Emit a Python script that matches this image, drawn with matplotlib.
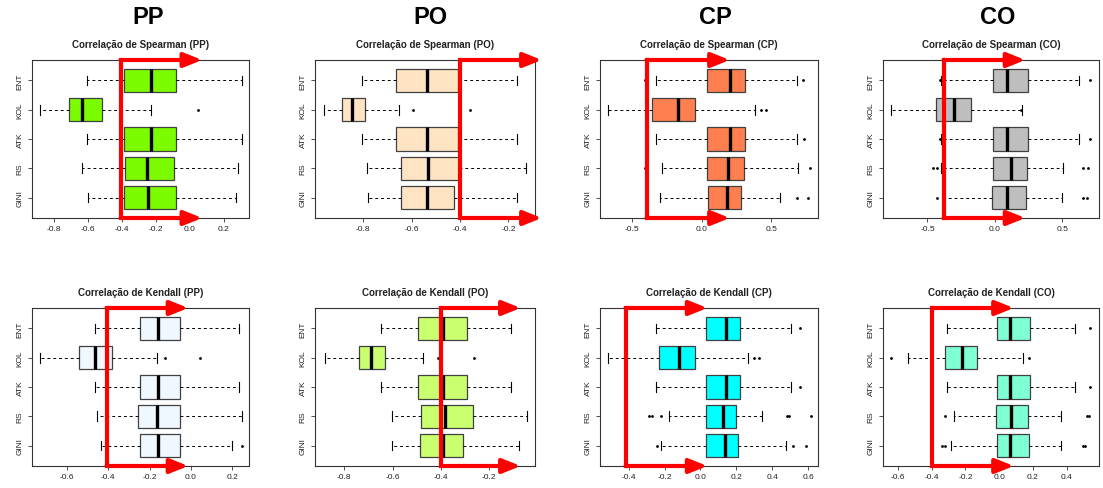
import matplotlib
matplotlib.use("Agg")
import matplotlib.pyplot as plt
from matplotlib.ticker import FormatStrFormatter

plt.rcParams['font.family'] = ['Liberation Sans', 'DejaVu Sans']
plt.rcParams['axes.unicode_minus'] = False

# categories, top to bottom as in the chart
cats = ["ENT", "KOL", "ATK", "RS", "GINI"]

# box stats per category: [whislo, q1, med, q3, whishi]
sp_pp_box = [[-0.604, -0.388, -0.232, -0.082, 0.31],
             [-0.882, -0.712, -0.637, -0.52, -0.231],
             [-0.604, -0.388, -0.232, -0.082, 0.31],
             [-0.637, -0.38, -0.255, -0.092, 0.284],
             [-0.598, -0.388, -0.249, -0.082, 0.27]]
sp_pp_out = [[], [0.049], [], [], []]

sp_po_box = [[-0.804, -0.665, -0.535, -0.407, -0.163],
             [-0.961, -0.89, -0.848, -0.793, -0.652],
             [-0.804, -0.665, -0.535, -0.407, -0.163],
             [-0.783, -0.646, -0.531, -0.404, -0.127],
             [-0.779, -0.646, -0.538, -0.425, -0.166]]
sp_po_out = [[], [-0.596, -0.359], [], [], []]

sp_cp_box = [[-0.33, 0.041, 0.203, 0.311, 0.687],
             [-0.67, -0.354, -0.167, -0.048, 0.383],
             [-0.33, 0.041, 0.203, 0.311, 0.687],
             [-0.282, 0.036, 0.187, 0.304, 0.695],
             [-0.299, 0.048, 0.182, 0.287, 0.562]]
sp_cp_out = [[-0.41, 0.73], [0.43, 0.46], [0.737], [-0.41, 0.78], [0.689, 0.766]]

sp_co_box = [[-0.40, -0.012, 0.092, 0.248, 0.621],
             [-0.769, -0.437, -0.301, -0.18, 0.201],
             [-0.40, -0.012, 0.092, 0.248, 0.621],
             [-0.40, -0.012, 0.117, 0.238, 0.505],
             [-0.38, -0.019, 0.092, 0.228, 0.50]]
sp_co_out = [[-0.41, 0.706], [0.19], [-0.41, 0.706], [-0.46, -0.43, 0.65, 0.69], [-0.43, 0.65, 0.68]]

ke_pp_box = [[-0.464, -0.245, -0.16, -0.053, 0.232],
             [-0.728, -0.539, -0.464, -0.384, -0.165],
             [-0.464, -0.245, -0.16, -0.053, 0.232],
             [-0.453, -0.256, -0.165, -0.053, 0.245],
             [-0.437, -0.245, -0.16, -0.053, 0.2]]
ke_pp_out = [[], [-0.128, 0.045], [], [], [0.245]]

ke_po_box = [[-0.646, -0.494, -0.393, -0.291, -0.112],
             [-0.88, -0.738, -0.691, -0.632, -0.473],
             [-0.646, -0.494, -0.393, -0.291, -0.112],
             [-0.604, -0.483, -0.383, -0.266, -0.046],
             [-0.604, -0.487, -0.393, -0.31, -0.076]]
ke_po_out = [[], [-0.411, -0.263], [], [], []]

ke_cp_box = [[-0.25, 0.033, 0.144, 0.22, 0.506],
             [-0.513, -0.231, -0.119, -0.031, 0.263],
             [-0.25, 0.033, 0.144, 0.22, 0.506],
             [-0.174, 0.033, 0.126, 0.2, 0.344],
             [-0.22, 0.033, 0.135, 0.209, 0.474]]
ke_cp_out = [[0.552], [0.30, 0.324], [0.552], [-0.285, -0.268, -0.22, 0.481, 0.49, 0.613],
             [-0.244, 0.517, 0.589]]

ke_co_box = [[-0.311, -0.014, 0.064, 0.184, 0.452],
             [-0.54, -0.32, -0.223, -0.13, 0.14],
             [-0.311, -0.014, 0.064, 0.184, 0.452],
             [-0.266, -0.019, 0.072, 0.171, 0.365],
             [-0.285, -0.014, 0.064, 0.179, 0.369]]
ke_co_out = [[0.54], [-0.641, 0.179], [0.54], [-0.32, 0.52, 0.53], [-0.34, -0.324, 0.495, 0.51]]

groups = ["PP", "PO", "CP", "CO"]
sp_boxes = [sp_pp_box, sp_po_box, sp_cp_box, sp_co_box]
sp_outs = [sp_pp_out, sp_po_out, sp_cp_out, sp_co_out]
ke_boxes = [ke_pp_box, ke_po_box, ke_cp_box, ke_co_box]
ke_outs = [ke_pp_out, ke_po_out, ke_cp_out, ke_co_out]

sp_colors = ["#7CFC00", "#FFE4C4", "#FF7F50", "#BEBEBE"]
ke_colors = ["#F0F8FF", "#CAFF70", "#00FFFF", "#7FFFD4"]

sp_xlim = [(-0.931, 0.349), (-1.0, -0.09), (-0.73, 0.837), (-0.83, 0.772)]
ke_xlim = [(-0.768, 0.28), (-0.921, -0.011), (-0.559, 0.654), (-0.689, 0.592)]
sp_ticks = [[-0.8, -0.6, -0.4, -0.2, 0.0, 0.2], [-0.8, -0.6, -0.4, -0.2],
            [-0.5, 0.0, 0.5], [-0.5, 0.0, 0.5]]
ke_ticks = [[-0.6, -0.4, -0.2, 0.0, 0.2], [-0.8, -0.6, -0.4, -0.2],
            [-0.4, -0.2, 0.0, 0.2, 0.4, 0.6], [-0.6, -0.4, -0.2, 0.0, 0.2, 0.4]]

# red arrow overlay: vertical line x and arrow tip x
sp_arrow = [(-0.408, 0.073), (-0.40, -0.062), (-0.395, 0.203), (-0.381, 0.226)]
ke_arrow = [(-0.408, -0.013), (-0.40, -0.07), (-0.417, 0.039), (-0.398, 0.087)]

fig = plt.figure(figsize=(11.03, 4.89), dpi=100)

lefts = [32, 315, 600, 883]
rights = [249, 535, 818, 1099]
title_x = [148, 430, 715, 998]
W, H = 1103.0, 489.0


def draw_panel(ax, boxes, outs, color, xlim, ticks, arrow, title):
    stats = []
    # reversed so ENT is at the top (position 5)
    for name, b, o in zip(cats[::-1], boxes[::-1], outs[::-1]):
        stats.append(dict(label=name, whislo=b[0], q1=b[1], med=b[2], q3=b[3],
                          whishi=b[4], fliers=o))
    ax.bxp(stats, positions=range(1, 6), orientation='horizontal',
           widths=0.8, capwidths=0.34, patch_artist=True,
           boxprops=dict(facecolor=color, edgecolor='#404040', lw=0.9),
           whiskerprops=dict(color='black', lw=0.7, linestyle=(0, (3, 3))),
           capprops=dict(color='black', lw=0.8),
           medianprops=dict(color='black', lw=2.4, solid_capstyle='butt'),
           flierprops=dict(marker='o', markersize=1.0, markerfacecolor='black',
                           markeredgecolor='black', linestyle='none'))
    ax.set_xlim(*xlim)
    ax.set_ylim(0.3, 5.7)
    ax.set_xticks(ticks)
    ax.xaxis.set_major_formatter(FormatStrFormatter('%.1f'))
    ax.set_yticks(range(1, 6))
    ax.set_yticklabels(cats[::-1], rotation=90, va='center')
    ax.tick_params(labelsize=6, length=3, width=0.6, color='#333333',
                   labelcolor='#222222', pad=2)
    ax.tick_params(axis='y', pad=3)
    for s in ax.spines.values():
        s.set_linewidth(0.8)
        s.set_color('#333333')
    ax.set_title(title, fontsize=7, fontweight='bold', pad=9, color='#222222')

    x0, tip = arrow
    ax.plot([x0, x0], [0.3, 5.7], color='#FF0000', lw=3, clip_on=False,
            solid_capstyle='projecting', zorder=10)
    for yy in (5.7, 0.3):
        ax.annotate('', xy=(tip, yy), xytext=(x0, yy), annotation_clip=False,
                    arrowprops=dict(arrowstyle='-|>,head_length=0.6,head_width=0.24',
                                    color='#FF0000', lw=3, mutation_scale=18,
                                    shrinkA=0, shrinkB=0), zorder=10)


for i, g in enumerate(groups):
    l = lefts[i] / W
    w = (rights[i] - lefts[i]) / W
    ax_top = fig.add_axes([l, 1 - 219 / H, w, (219 - 61) / H])
    draw_panel(ax_top, sp_boxes[i], sp_outs[i], sp_colors[i], sp_xlim[i], sp_ticks[i],
               sp_arrow[i], "Correlação de Spearman (%s)" % g)
    ax_bot = fig.add_axes([l, 1 - 467 / H, w, (467 - 309) / H])
    draw_panel(ax_bot, ke_boxes[i], ke_outs[i], ke_colors[i], ke_xlim[i], ke_ticks[i],
               ke_arrow[i], "Correlação de Kendall (%s)" % g)
    fig.text(title_x[i] / W, 1 - 17 / H, g, fontsize=17, fontweight='bold',
             ha='center', va='center')

fig.savefig("out.png", dpi=100)
